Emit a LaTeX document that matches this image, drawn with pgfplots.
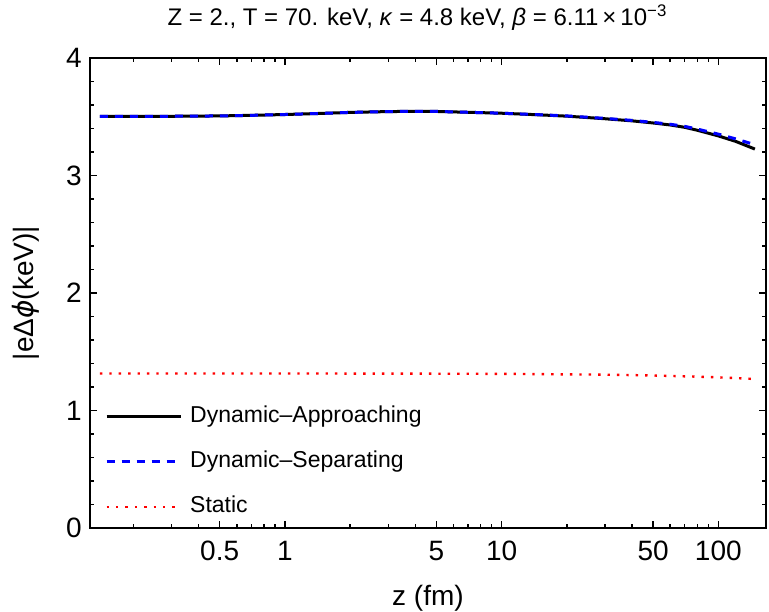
\documentclass[border=0pt]{standalone}
\usepackage{fontspec}
\setmainfont{Liberation Sans}
\newfontfamily\dejavu{DejaVu Sans}
\usepackage{pgfplots}
\usepackage{pgfplotstable}
\pgfplotsset{compat=1.18}

\pgfplotstableread{
z v
0.14 3.503
0.2 3.503
0.3 3.504
0.5 3.507
0.7 3.512
1 3.519
1.5 3.529
2 3.537
3 3.544
4 3.546
5 3.545
7 3.538
10 3.530
15 3.516
20 3.505
30 3.483
40 3.465
50 3.447
60 3.430
70 3.410
80 3.385
100 3.337
120 3.291
147.5 3.225
}\approach

\pgfplotstableread{
z v
0.14 3.503
0.2 3.503
0.3 3.504
0.5 3.507
0.7 3.512
1 3.519
1.5 3.529
2 3.537
3 3.544
4 3.546
5 3.545
7 3.538
10 3.530
15 3.517
20 3.507
30 3.486
40 3.469
50 3.452
60 3.436
70 3.418
80 3.395
100 3.352
120 3.312
147.5 3.262
}\separate

\pgfplotstableread{
z v
0.14 1.315
0.5 1.315
1 1.315
3 1.314
10 1.312
30 1.305
50 1.298
80 1.288
100 1.282
120 1.276
147.5 1.268
}\static

\begin{document}
\begin{tikzpicture}
\useasboundingbox (-90pt,-84pt) rectangle (679pt,528pt);
\begin{axis}[
  at={(0pt,0pt)}, anchor=south west,
  scale only axis, width=676pt, height=470pt,
  xmode=log, xmin=0.126, xmax=166, ymin=0, ymax=4,
  axis line style={line width=2.5pt, black},
  tick style={line width=1.5pt, black},
  major tick length=7pt, minor tick length=4pt,
  tick align=inside,
  xtick={0.5,1,5,10,50,100},
  xticklabels={0.5,1,5,10,50,100},
  minor xtick={0.2,0.3,0.4,0.6,0.7,0.8,0.9,2,3,4,6,7,8,9,20,30,40,60,70,80,90},
  ytick={0,1,2,3,4},
  yticklabels={0,1,2,3,4},
  minor ytick={0.2,0.4,0.6,0.8,1.2,1.4,1.6,1.8,2.2,2.4,2.6,2.8,3.2,3.4,3.6,3.8},
  tick label style={font=\fontsize{28}{32}\selectfont},
  xticklabel style={anchor=base, inner sep=0pt, yshift=-33pt},
  yticklabel style={anchor=east, inner sep=0pt, xshift=-8pt},
  xlabel={z (fm)},
  xlabel style={font=\fontsize{28}{32}\selectfont, at={(axis description cs:0.5,0)}, anchor=base, inner sep=0pt, yshift=-78pt},
  ylabel={|eΔ{\dejavu\itshape ϕ}(keV)|},
  ylabel style={font=\fontsize{28}{32}\selectfont, at={(axis description cs:-0.0947,0.5)}, anchor=center, inner sep=0pt},
  title={Z = 2., T = 70. keV, \textit{κ} = 4.8 keV, \textit{β} = 6.11\,×\,10\textsuperscript{−3}},
  title style={font=\fontsize{24}{28}\selectfont, at={(axis description cs:0.484,1)}, anchor=base, inner sep=0pt, yshift=26pt},
  legend image code/.code={\draw[#1] (0pt,0pt) -- (74pt,0pt);},
  legend style={draw=none, fill=none, at={(axis description cs:0,0)}, anchor=south west,
    xshift=15pt, yshift=9pt, inner sep=0pt, row sep=21pt,
    font=\fontsize{23}{27}\selectfont,
    nodes={inner sep=0pt, text height=18pt, text depth=6pt},
    /tikz/every odd column/.append style={column sep=8pt}},
  legend cell align=left,
  no markers,
]
\addplot[black, line width=3pt] table {\approach};
\addlegendentry{Dynamic–Approaching}
\addplot[blue, line width=3pt, dash pattern=on 8pt off 7pt] table {\separate};
\addlegendentry{Dynamic–Separating}
\addplot[red, line width=2.4pt, dash pattern=on 2.4pt off 7pt] table {\static};
\addlegendentry{Static}
\end{axis}
\end{tikzpicture}
\end{document}
